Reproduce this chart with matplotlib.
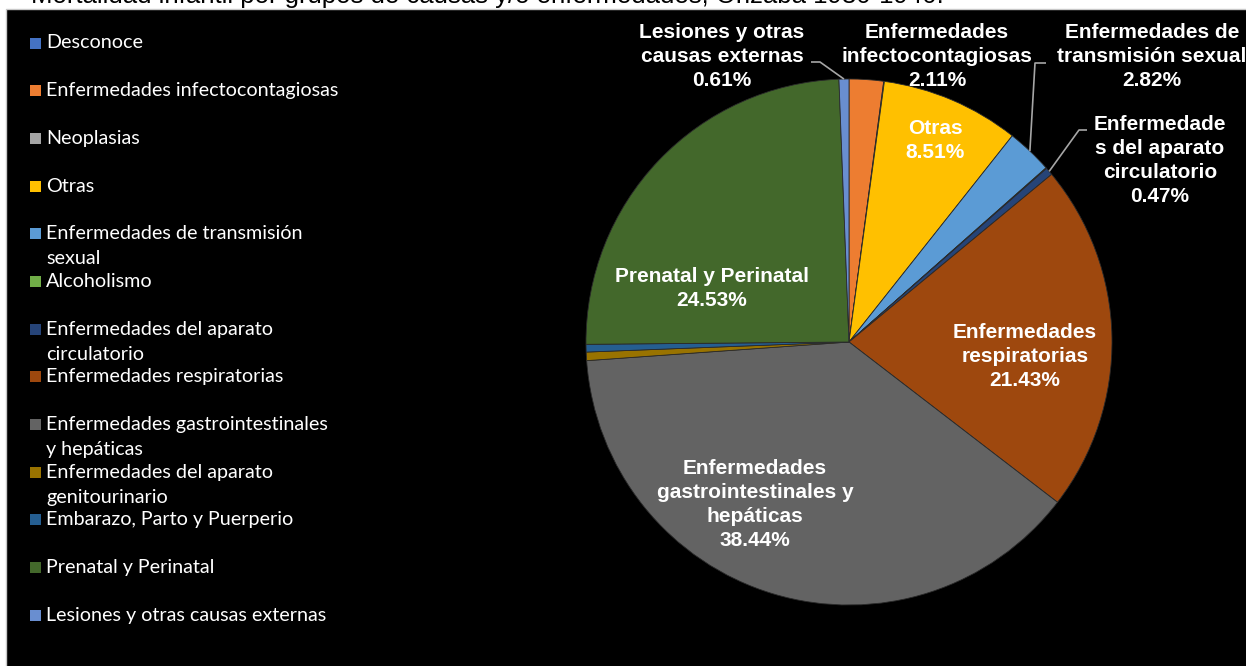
import matplotlib
matplotlib.use("Agg")
import matplotlib.pyplot as plt
from matplotlib.patches import Rectangle
import numpy as np

# ---------------- data ----------------
categories = [
    "Desconoce",
    "Enfermedades infectocontagiosas",
    "Neoplasias",
    "Otras",
    "Enfermedades de transmisión sexual",
    "Alcoholismo",
    "Enfermedades del aparato circulatorio",
    "Enfermedades respiratorias",
    "Enfermedades gastrointestinales y hepáticas",
    "Enfermedades del aparato genitourinario",
    "Embarazo, Parto y Puerperio",
    "Prenatal y Perinatal",
    "Lesiones y otras causas externas",
]
percentages = [0.0, 2.11, 0.04, 8.51, 2.82, 0.05, 0.47, 21.43, 38.44, 0.52, 0.47, 24.53, 0.61]

legend_labels = [
    "Desconoce",
    "Enfermedades infectocontagiosas",
    "Neoplasias",
    "Otras",
    "Enfermedades de transmisión\nsexual",
    "Alcoholismo",
    "Enfermedades del aparato\ncirculatorio",
    "Enfermedades respiratorias",
    "Enfermedades gastrointestinales\ny hepáticas",
    "Enfermedades del aparato\ngenitourinario",
    "Embarazo, Parto y Puerperio",
    "Prenatal y Perinatal",
    "Lesiones y otras causas externas",
]

# data-label names (as wrapped in the chart); None = no label
label_names = [
    None,
    "Enfermedades\ninfectocontagiosas",
    None,
    "Otras",
    "Enfermedades de\ntransmisión sexual",
    None,
    "Enfermedade\ns del aparato\ncirculatorio",
    "Enfermedades\nrespiratorias",
    "Enfermedades\ngastrointestinales y\nhepáticas",
    None,
    None,
    "Prenatal y Perinatal",
    "Lesiones y otras\ncausas externas",
]

title = "Mortalidad infantil por grupos de causas y/o enfermedades, Orizaba 1930-1940."

colors = ["#4472C4", "#ED7D31", "#A5A5A5", "#FFC000", "#5B9BD5", "#70AD47",
          "#264478", "#9E480E", "#636363", "#997300", "#255E91", "#43682B", "#698ED0"]

# ---------------- layout (pixel coords, top-origin) ----------------
W, H = 1246, 666
CX, CY, R = 849, 342, 263

label_pos = {  # centre of label block
    1: (937, 57), 3: (935, 141), 4: (1152, 57), 6: (1160, 161),
    7: (1025, 356), 8: (755, 504), 11: (712, 288), 12: (722, 57),
}
leaders = {  # start point, elbow point
    12: [(811, 62), (820, 62)],
    4: [(1046, 63), (1035, 63)],
    6: [(1087, 130), (1079, 130)],
}

def Y(y):
    return H - y

fig = plt.figure(figsize=(W / 100, H / 100), dpi=100)
fig.patch.set_facecolor("white")
ax = fig.add_axes([0, 0, 1, 1])

ax.add_patch(Rectangle((5.5, -2), W, H - 9 + 2, facecolor="black",
                       edgecolor="#c8c8c8", linewidth=1, zorder=0))

wedges, _ = ax.pie(percentages, colors=colors, startangle=90, counterclock=False,
                   center=(CX, Y(CY)), radius=R,
                   wedgeprops=dict(edgecolor="#2a2a2a", linewidth=0.6))
ax.set_xlim(0, W)
ax.set_ylim(0, H)
ax.axis("off")

# data labels
lab_font = dict(family="Liberation Sans", weight="bold", size=15, color="white")
line_h = 24
for i, name in enumerate(label_names):
    if name is None:
        continue
    lines = name.split("\n") + [f"{percentages[i]:.2f}%"]
    x0, yc = label_pos[i]
    ytop = yc - (len(lines) - 1) * line_h / 2
    for k, ln in enumerate(lines):
        ax.text(x0, Y(ytop + k * line_h), ln, ha="center", va="center", **lab_font)
    if i in leaders:
        w = wedges[i]
        mid = np.deg2rad((w.theta1 + w.theta2) / 2)
        px = CX + R * np.cos(mid)
        py = Y(CY) + R * np.sin(mid)
        (sx, sy), (ex, ey) = leaders[i]
        ax.plot([sx, ex, px], [Y(sy), Y(ey), py], color="#a6a6a6", lw=1.2,
                solid_capstyle="butt")

# legend
leg_font = dict(family="Lato", size=14.2, color="white")
y0, step, lstep = 43, 47.67, 25
for i, lab in enumerate(legend_labels):
    yc = y0 + i * step
    ax.add_patch(Rectangle((30, Y(yc) - 5.5), 11, 11, facecolor=colors[i], edgecolor="none"))
    for k, ln in enumerate(lab.split("\n")):
        ax.text(46, Y(yc + k * lstep), ln, ha="left", va="center", **leg_font)

# title (cut at top, as in reference)
fig.text(31 / W, 1 - 3.5 / H, title, ha="left", va="baseline",
         family="Liberation Sans", size=18.5, color="black")

fig.savefig("out.png", dpi=100, facecolor=fig.get_facecolor())
